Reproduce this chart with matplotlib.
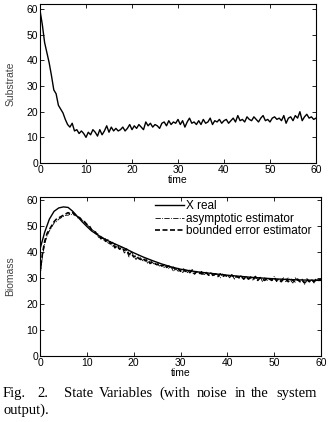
import matplotlib
matplotlib.use("Agg")
import matplotlib.pyplot as plt
import numpy as np

# time grid of the noisy series (step 0.5)
t_noisy = np.arange(0, 60.5, 0.5)

substrate = [
    59.5, 54, 47, 43, 39, 34, 28.5, 27, 22.5, 21, 19.5, 17, 15, 14, 15.5, 12.5,
    13, 11.5, 12.5, 11.5, 10, 12, 11, 13, 12, 10.5, 13, 11, 12.5, 14.5, 12, 14,
    12.5, 13.5, 12.5, 13, 14, 12.5, 13.5, 15, 13, 14.5, 13.5, 15, 14, 13, 16,
    14.5, 15.5, 14, 15, 14.5, 13.5, 15.5, 16, 14.5, 16.5, 15, 16, 15.5, 17, 15,
    16.5, 14, 16, 17.5, 15.5, 16, 15, 16.5, 15, 17, 15.5, 16, 17.5, 15, 16.5,
    16, 17, 15.5, 16.5, 17, 15.5, 16.5, 17.5, 16, 18.5, 16.5, 17, 16, 18, 17,
    16.5, 18, 17, 16, 17.5, 18.5, 16.5, 17, 16, 17.5, 18, 17, 17.5, 16.5, 18.5,
    15.5, 17.5, 18, 16.5, 18.5, 17.5, 20, 16.5, 18, 19, 17.5, 18, 17, 17.5,
]

# real biomass (smooth)
t_real = [0, 1, 2, 3, 4, 5, 6, 7, 8, 9, 10, 11, 12, 13, 14, 15, 16, 17, 18,
          19, 20, 22, 24, 26, 28, 30, 32, 34, 36, 38, 40, 45, 50, 55, 60]
x_real = [41, 47.5, 52.5, 55.5, 56.8, 57.2, 57, 55.5, 53.5, 51.5, 49.7, 48,
          46.8, 45.7, 44.7, 43.8, 43, 42.2, 41.4, 40.5, 39.6, 38, 36.6, 35.3,
          34.2, 33.3, 32.7, 32.2, 31.8, 31.4, 31, 30.2, 29.6, 29.2, 29]

x_asymptotic = [
    30, 38, 43, 46, 48, 49.5, 51, 51.5, 52.5, 53, 53.5, 54, 54, 54.5, 54, 54.5,
    53, 53, 52, 51.5, 50.5, 49.5, 48.5, 48, 47.5, 45.5, 46, 44.5, 45, 43, 44,
    42, 43, 41.5, 41, 42, 39.5, 40.5, 38, 40, 38.5, 37, 38.5, 37.5, 36.5, 37.5,
    35.5, 36.5, 36, 35, 35.5, 34.5, 35, 34, 34.5, 33.5, 34, 32.5, 33.5, 32.5,
    33, 32, 33.5, 32, 33, 32, 31.5, 32.5, 31.5, 32.5, 31, 32, 31, 32, 30.5,
    31.5, 31, 30, 31.5, 30.5, 31, 30, 31.5, 29.5, 30.5, 30, 31, 29.5, 30.5,
    29.5, 30.5, 29, 30, 29.5, 30.5, 28.5, 30, 29, 30, 29, 30.5, 28.5, 29.5, 29,
    30, 28.5, 30, 29, 28, 30, 29, 28.5, 29.5, 27.5, 29, 28.5, 29.5, 28, 29,
    29.5, 29,
]

x_bounded = [
    32, 39, 44, 47, 48.5, 50, 51.5, 52.5, 53, 53.5, 54, 54.5, 55, 54.5, 55, 54,
    53.5, 53, 52, 51.5, 50.5, 50, 48.5, 48, 47, 46.5, 45, 45.5, 44, 44.5,
    43, 43.5, 41.5, 42.5, 41, 41.5, 40.5, 41, 39, 39.5, 38, 38.5, 37.5, 37,
    37.5, 36.5, 37, 35.5, 36, 35.5, 35, 35.5, 34.5, 35, 34, 34.5, 33.5, 34,
    33, 33.5, 32.5, 33.5, 32.5, 32.5, 32, 33, 31.5, 32.5, 32, 31.5, 31.5, 32,
    31, 31.5, 31, 31.5, 30.5, 31.5, 30.5, 31, 30.5, 30.5, 31, 30, 30.5, 30,
    30.5, 29.5, 30.5, 29.5, 30, 29.5, 30.5, 29, 30, 29.5, 29, 30, 29.5, 29,
    30, 29, 29.5, 28.5, 29.5, 29.5, 28.5, 29.5, 29, 28.5, 29.5, 28.5, 29, 28,
    29.5, 28.5, 29, 28.5, 29.5, 29, 29.5,
]

caption_words = [("Fig.", 3), ("2.", 37), ("State", 64), ("Variables", 99),
                 ("(with", 159), ("noise", 197), ("in", 235), ("the", 251),
                 ("system", 276)]

plt.rcParams["font.family"] = ["Liberation Sans", "DejaVu Sans"]
plt.rcParams["font.size"] = 7.5

fig = plt.figure(figsize=(3.34, 4.22), dpi=100)
W, H = 334.0, 422.0


def make_axes(x0, y0, x1, y1):
    ax = fig.add_axes([x0 / W, 1 - y1 / H, (x1 - x0) / W, (y1 - y0) / H])
    ax.tick_params(direction="in", top=True, right=True, length=3, width=0.6,
                   labelsize=7.5, pad=1.5)
    for s in ax.spines.values():
        s.set_linewidth(0.8)
    ax.set_xlim(0, 60)
    ax.set_xticks([0, 10, 20, 30, 40, 50, 60])
    ax.set_yticks([0, 10, 20, 30, 40, 50, 60])
    ax.set_xlabel("time", fontsize=7.5, labelpad=0)
    return ax


ax1 = make_axes(40, 4, 316, 163)
ax1.plot(t_noisy, substrate, color="black", lw=1.0)
ax1.set_ylim(0, 62)
ax1.set_ylabel("Substrate", fontsize=7.5, color="#444444", labelpad=8)

ax2 = make_axes(40, 197, 321, 356)
ax2.plot(t_real, x_real, color="black", lw=1.0, label="X real")
ax2.plot(t_noisy, x_asymptotic, color="black", lw=0.6, ls="-.",
         label="asymptotic estimator")
ax2.plot(t_noisy, x_bounded, color="black", lw=1.2, ls=(0, (3, 1.5)),
         label="bounded error estimator")
ax2.set_ylim(0, 61)
ax2.set_ylabel("Biomass", fontsize=7.5, color="#444444", labelpad=8)
ax2.legend(loc="upper right", frameon=False, fontsize=8.5, handlelength=2.4,
           handletextpad=0.2, labelspacing=0.05, borderaxespad=0.1,
           borderpad=0.1, bbox_to_anchor=(0.975, 0.995))

cap = dict(family=["Liberation Serif", "DejaVu Serif"], fontsize=10.5,
           va="baseline")
for word, xpos in caption_words:
    fig.text(xpos / W, 1 - 397 / H, word, **cap)
fig.text(3 / W, 1 - 414 / H, "output).", **cap)

fig.savefig("out.png", dpi=100)
